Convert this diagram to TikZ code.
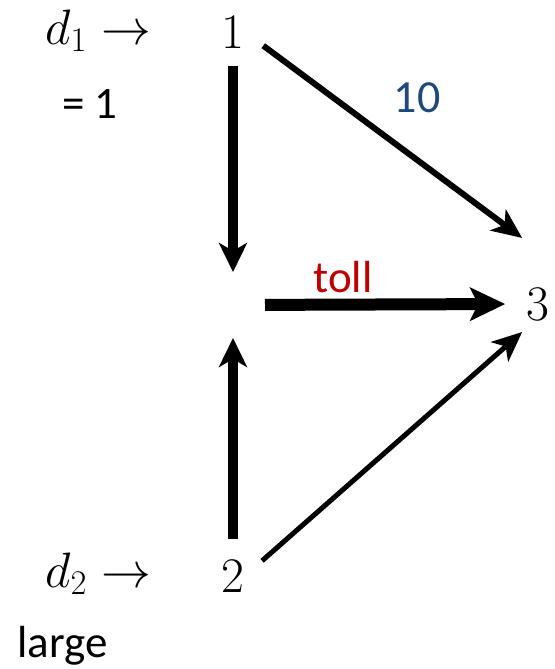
\documentclass[tikz,border=0pt]{standalone}
\usepackage[no-math]{fontspec}
\newfontfamily\calib{Carlito}
\usetikzlibrary{arrows.meta}
\definecolor{numblue}{RGB}{31,73,125}
\definecolor{tollred}{RGB}{192,0,0}

\begin{document}
\begin{tikzpicture}[
    x=0.5pt, y=-0.5pt,
    vtx/.style={inner sep=0pt, anchor=base, font=\fontsize{24}{28}\selectfont},
    dlbl/.style={inner sep=0pt, anchor=base west, font=\fontsize{24}{28}\selectfont},
    note/.style={inner sep=0pt, font=\calib\fontsize{22.5}{26}\selectfont},
    flow/.style={-{Stealth[length=15pt, width=13pt, inset=4pt]}},
    vflow/.style={-{Stealth[length=14.5pt, width=14pt, inset=4pt]}, line width=5pt}
  ]
  \useasboundingbox (0,0) rectangle (555,669);

  % Knoten
  \node[vtx] (n1) at (233,48) {$1$};
  \node[vtx] (n2) at (233,592) {$2$};
  \node[vtx] (n3) at (538,320) {$3$};
  \coordinate (mid) at (233,305);

  % Nachfrage
  \node[dlbl] (d1) at (45,44) {$d_1 \rightarrow$};
  \node[dlbl] (d2) at (45,587) {$d_2 \rightarrow$};
  \node[note, anchor=base west] (d1val) at (62,118) {= 1};
  \node[note, anchor=base west] (d2val) at (17,657) {large};

  % Kanten
  \draw[vflow, shorten <=9pt, shorten >=16.5pt] (n1.south) -- (mid);
  \draw[vflow, shorten <=10.5pt, shorten >=16.5pt] (n2.north) -- (mid);
  \draw[-{Stealth[length=17.5pt, width=16.5pt, inset=4pt]}, line width=6pt,
        shorten <=16pt, shorten >=10.5pt] (mid) -- (n3.west);
  \draw[flow, line width=3pt, shorten <=11.5pt] (n1.east) -- ([xshift=-2pt, yshift=33pt]n3.west);
  \draw[flow, line width=2.5pt, shorten <=11.5pt] (n2.east) -- ([xshift=-2pt, yshift=-14pt]n3.west);

  % Kosten
  \node[note, anchor=base, text=numblue, font=\calib\fontsize{23}{28}\selectfont] (cost) at (417,112) {10};
  \node[note, anchor=base, text=tollred] (toll) at (343,292) {toll};

\end{tikzpicture}
\end{document}
